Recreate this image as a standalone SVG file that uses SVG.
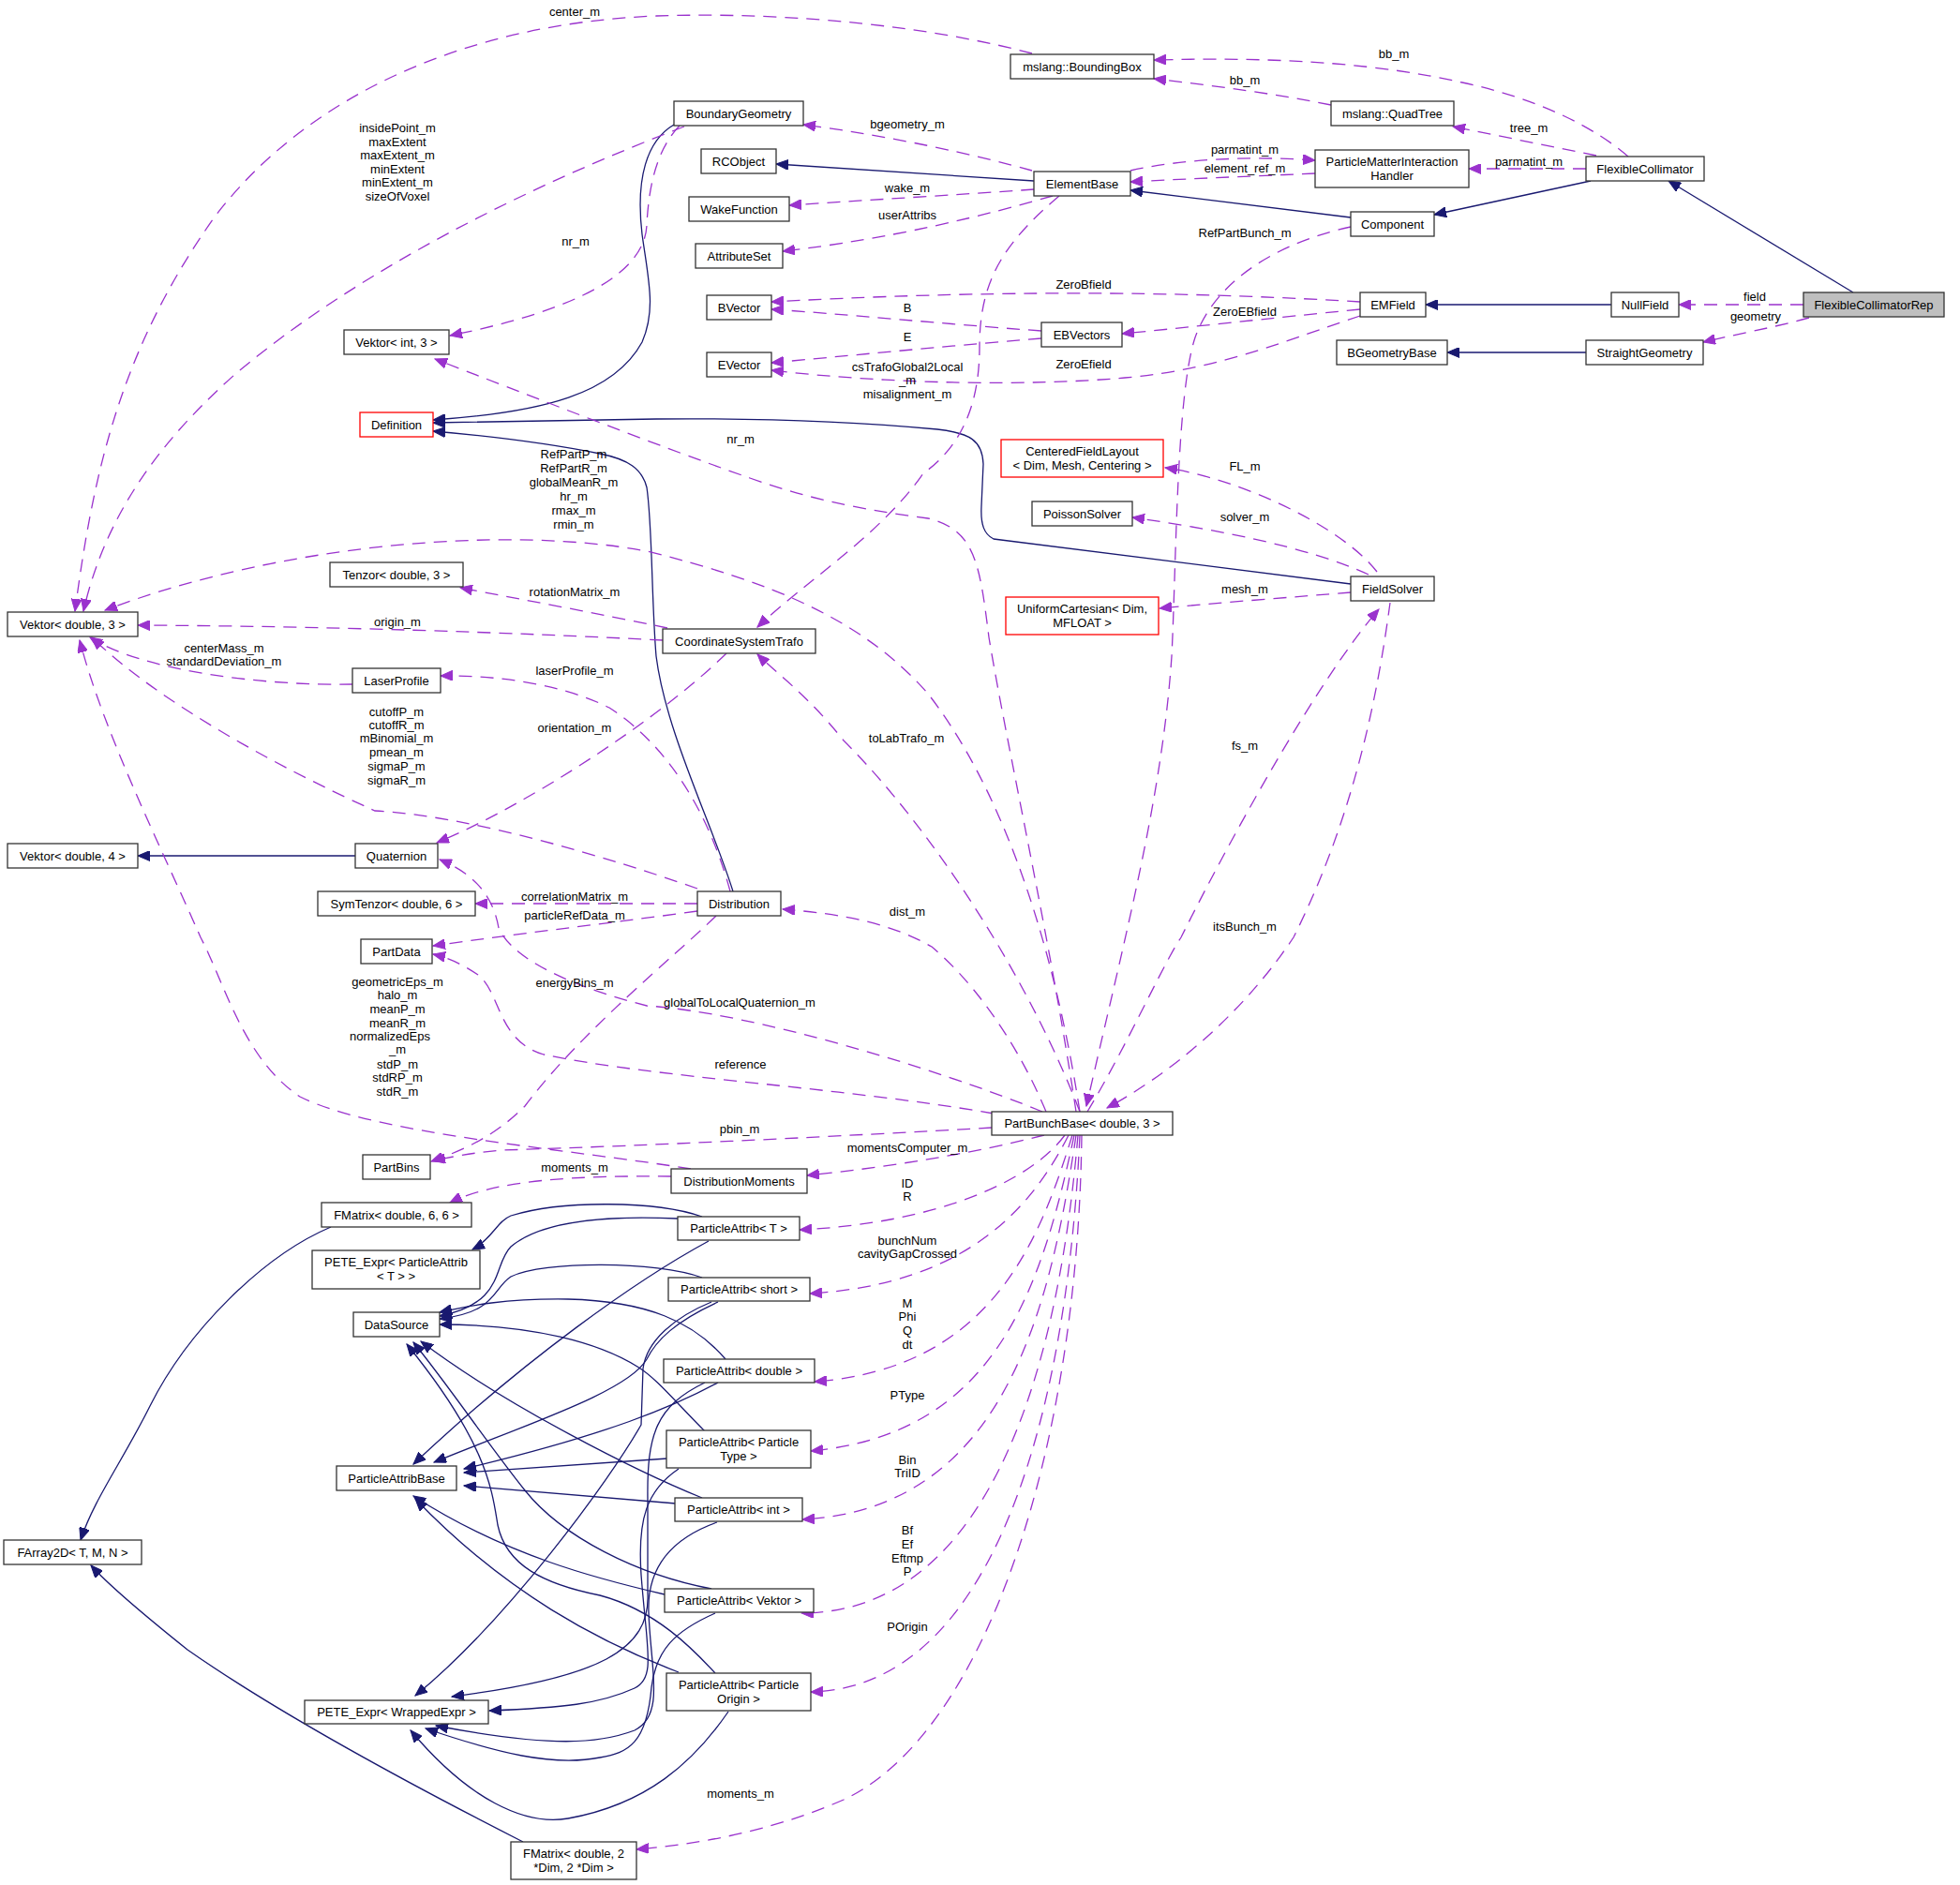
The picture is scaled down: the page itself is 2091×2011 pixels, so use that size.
<svg xmlns="http://www.w3.org/2000/svg" width="2091" height="2011" viewBox="0 0 2091 2011">
<defs>
<marker id="an" markerUnits="userSpaceOnUse" markerWidth="14" markerHeight="11" refX="13" refY="5.5" orient="auto" viewBox="0 0 14 11"><path d="M0,0 L13,5.5 L0,11 z" fill="#191970" stroke="#191970" stroke-width="1"/></marker>
<marker id="ap" markerUnits="userSpaceOnUse" markerWidth="14" markerHeight="11" refX="13" refY="5.5" orient="auto" viewBox="0 0 14 11"><path d="M0,0 L13,5.5 L0,11 z" fill="#9a32cd" stroke="#9a32cd" stroke-width="1"/></marker>
<style>
.n rect{fill:#fff;stroke:#333;stroke-width:1.3}
.n.r rect{stroke:#ff0000}
.n.g rect{fill:#bfbfbf}
text{font-family:"Liberation Sans",Arial,Helvetica,sans-serif;font-size:13px;text-anchor:middle;fill:#000}
.e{fill:none;stroke:#191970;stroke-width:1.3;marker-end:url(#an)}
.d{fill:none;stroke:#9a32cd;stroke-width:1.3;stroke-dasharray:14,9;marker-end:url(#ap)}
</style>
</defs>
<rect width="2091" height="2011" fill="#fff"/>
<g id="connectors">
<path class="e" d="M1977,312 L1780,193"/>
<path class="e" d="M1697,193 L1530,229"/>
<path class="e" d="M1441,232 L1206,203"/>
<path class="e" d="M1103,193 L828,175"/>
<path class="e" d="M1719,325 L1521,325"/>
<path class="e" d="M1692,376 L1544,376"/>
<path class="e" d="M719,133 C690,150 678,190 685,250 C692,300 700,330 685,365 C655,420 580,440 462,448"/>
<path class="e" d="M1441,623 L1060,575 C1050,570 1046,560 1047,540 L1049,495 C1048,470 1035,462 1000,458 C900,449 800,446 700,447 L462,451"/>
<path class="e" d="M782,951 C760,880 710,780 700,700 C695,640 696,560 690,520 C685,500 670,490 640,484 C580,472 520,465 462,460"/>
<path class="e" d="M379,913 L147,913"/>
<path class="e" d="M353,1309 C280,1340 200,1420 160,1500 C130,1560 100,1600 86,1643"/>
<path class="e" d="M558,1965 C450,1910 300,1830 200,1760 C150,1720 115,1690 97,1670"/>
<path class="e" d="M749,1298 C700,1281 600,1280 545,1297 C530,1303 525,1322 504,1333"/>
<path class="e" d="M723,1300 C660,1297 580,1300 545,1330 C525,1350 540,1390 469,1404"/>
<path class="e" d="M756,1324 C680,1365 560,1450 441,1562"/>
<path class="e" d="M749,1363 C700,1345 580,1345 545,1362 C525,1375 530,1400 469,1407"/>
<path class="e" d="M766,1389 C720,1410 700,1430 690,1450 C670,1485 560,1520 463,1560"/>
<path class="e" d="M759,1389 C720,1405 690,1430 686,1460 L684,1520 C650,1580 540,1730 443,1809"/>
<path class="e" d="M774,1450 C740,1410 690,1388 606,1386 C540,1385 500,1393 469,1400"/>
<path class="e" d="M766,1475 C720,1500 650,1530 495,1567"/>
<path class="e" d="M752,1475 C700,1500 690,1530 691,1600 L691,1700 C694,1760 640,1790 482,1810"/>
<path class="e" d="M752,1527 C720,1495 700,1470 680,1458 C640,1433 570,1413 469,1413"/>
<path class="e" d="M712,1556 L495,1571"/>
<path class="e" d="M724,1567 C690,1590 680,1620 684,1680 C690,1760 700,1790 677,1801 C640,1818 600,1822 522,1825"/>
<path class="e" d="M749,1598 C680,1570 540,1500 449,1431"/>
<path class="e" d="M721,1604 L495,1585"/>
<path class="e" d="M765,1624 C720,1640 690,1670 692,1720 C694,1780 710,1830 677,1846 C640,1860 590,1865 465,1841"/>
<path class="e" d="M759,1695 C680,1680 600,1640 560,1590 C520,1540 480,1480 441,1432"/>
<path class="e" d="M709,1701 C640,1685 540,1660 441,1596"/>
<path class="e" d="M763,1721 C720,1740 700,1760 695,1800 C690,1860 670,1870 640,1875 C590,1885 530,1870 454,1844"/>
<path class="e" d="M763,1785 C740,1760 700,1718 640,1702 C580,1690 540,1670 531,1627 C525,1590 520,1540 434,1434"/>
<path class="e" d="M724,1784 C640,1752 540,1700 443,1599"/>
<path class="e" d="M777,1826 C740,1880 690,1925 606,1940 C560,1948 500,1920 438,1846"/>
<path class="d" d="M1924,325 L1791,325"/>
<path class="d" d="M1930,339 C1890,350 1850,357 1817,365"/>
<path class="d" d="M1737,167 C1700,135 1640,105 1560,88 C1480,70 1380,60 1231,64"/>
<path class="d" d="M1703,166 L1550,135"/>
<path class="d" d="M1692,180 L1567,180"/>
<path class="d" d="M1420,112 C1360,100 1300,92 1231,84"/>
<path class="d" d="M1403,185 C1340,188 1280,190 1206,194"/>
<path class="d" d="M1206,182 C1260,170 1330,166 1403,171"/>
<path class="d" d="M1101,182 C1040,165 950,145 857,133"/>
<path class="d" d="M1103,202 C1020,208 930,213 842,219"/>
<path class="d" d="M1123,209 C1050,230 950,255 835,268"/>
<path class="d" d="M1130,209 C1070,260 1045,300 1045,370 C1045,440 1020,480 985,505 C940,570 860,620 808,669"/>
<path class="d" d="M1441,242 C1380,255 1300,290 1275,360 C1255,420 1255,600 1250,700 C1240,850 1200,1000 1159,1180"/>
<path class="d" d="M1451,322 C1300,313 1100,307 823,322"/>
<path class="d" d="M1451,330 C1350,340 1280,348 1197,356"/>
<path class="d" d="M1451,337 C1380,360 1300,395 1200,403 C1100,412 950,410 823,395"/>
<path class="d" d="M1111,353 C1000,345 900,335 823,330"/>
<path class="d" d="M1111,361 C1000,370 900,380 823,387"/>
<path class="d" d="M730,135 C560,200 380,290 250,400 C160,480 110,560 89,652"/>
<path class="d" d="M725,134 C700,160 692,200 690,240 C688,290 620,330 480,358"/>
<path class="d" d="M1101,57 C1000,30 850,12 700,17 C500,25 330,100 230,230 C130,370 100,500 80,652"/>
<path class="d" d="M1148,1186 C1120,1000 1075,800 1055,680 C1045,600 1040,565 990,553 C930,545 870,535 800,510 C700,475 560,420 464,383"/>
<path class="d" d="M1152,1186 C1120,980 1060,830 990,740 C920,660 820,620 690,588 C540,560 300,580 112,651"/>
<path class="d" d="M707,683 C550,675 350,668 147,667"/>
<path class="d" d="M376,730 C280,732 150,715 96,680"/>
<path class="d" d="M744,948 C650,915 500,870 400,865 C300,820 170,750 98,680"/>
<path class="d" d="M737,1247 C600,1225 400,1210 320,1170 C260,1130 240,1050 214,1000 C170,900 110,780 85,683"/>
<path class="d" d="M712,670 C640,655 560,640 491,627"/>
<path class="d" d="M775,697 C700,770 560,860 466,899"/>
<path class="d" d="M779,951 C760,880 720,800 650,755 C600,730 530,720 470,721"/>
<path class="d" d="M744,964 L507,964"/>
<path class="d" d="M744,972 C650,985 560,995 462,1009"/>
<path class="d" d="M764,977 C720,1020 620,1100 560,1180 C530,1210 500,1225 460,1239"/>
<path class="d" d="M1112,1186 C1000,1140 800,1080 690,1073 C600,1050 545,1020 532,990 C525,950 500,930 469,917"/>
<path class="d" d="M1060,1188 C900,1160 700,1150 580,1125 C530,1110 535,1060 510,1040 C495,1030 480,1022 462,1018"/>
<path class="d" d="M1058,1203 C900,1212 700,1222 536,1227 C500,1230 480,1235 462,1238"/>
<path class="d" d="M1116,1186 C1080,1100 1030,1040 994,1010 C950,985 900,975 835,970"/>
<path class="d" d="M1114,1211 C1040,1230 950,1245 861,1254"/>
<path class="d" d="M716,1255 C620,1254 530,1258 480,1283"/>
<path class="d" d="M1152,1186 C1100,1050 1000,890 900,790 C860,740 830,720 808,698"/>
<path class="d" d="M1160,1186 C1200,1120 1240,1030 1260,1000 C1320,880 1410,720 1471,650"/>
<path class="d" d="M1483,643 C1470,740 1445,870 1380,1000 C1320,1090 1240,1150 1181,1182"/>
<path class="d" d="M1469,610 C1430,560 1320,510 1243,499"/>
<path class="d" d="M1460,613 C1400,585 1300,565 1208,552"/>
<path class="d" d="M1441,632 C1380,637 1300,643 1237,649"/>
<path class="d" d="M1136,1211 C1100,1260 1000,1305 853,1312"/>
<path class="d" d="M1140,1211 C1100,1290 1030,1370 864,1380"/>
<path class="d" d="M1144,1211 C1110,1320 1060,1460 869,1474"/>
<path class="d" d="M1146,1211 C1110,1380 1060,1530 865,1548"/>
<path class="d" d="M1148,1211 C1120,1400 1070,1610 856,1621"/>
<path class="d" d="M1150,1211 C1130,1450 1060,1720 855,1721"/>
<path class="d" d="M1152,1211 C1140,1480 1070,1800 865,1805"/>
<path class="d" d="M1154,1211 C1150,1550 1050,1850 900,1920 C820,1955 740,1968 679,1973"/>
</g>
<g id="labels">
<text x="613" y="17">center_m</text>
<text x="424" y="141">insidePoint_m</text>
<text x="424" y="156">maxExtent</text>
<text x="424" y="170">maxExtent_m</text>
<text x="424" y="185">minExtent</text>
<text x="424" y="199">minExtent_m</text>
<text x="424" y="214">sizeOfVoxel</text>
<text x="614" y="262">nr_m</text>
<text x="1328" y="90">bb_m</text>
<text x="1487" y="62">bb_m</text>
<text x="968" y="137">bgeometry_m</text>
<text x="1328" y="164">parmatint_m</text>
<text x="1328" y="184">element_ref_m</text>
<text x="1631" y="141">tree_m</text>
<text x="1631" y="177">parmatint_m</text>
<text x="968" y="205">wake_m</text>
<text x="968" y="234">userAttribs</text>
<text x="1328" y="253">RefPartBunch_m</text>
<text x="1156" y="308">ZeroBfield</text>
<text x="968" y="333">B</text>
<text x="1328" y="337">ZeroEBfield</text>
<text x="968" y="364">E</text>
<text x="1156" y="393">ZeroEfield</text>
<text x="1872" y="321">field</text>
<text x="1873" y="342">geometry</text>
<text x="968" y="396">csTrafoGlobal2Local</text>
<text x="968" y="410">_m</text>
<text x="968" y="425">misalignment_m</text>
<text x="790" y="473">nr_m</text>
<text x="1328" y="502">FL_m</text>
<text x="612" y="489">RefPartP_m</text>
<text x="612" y="504">RefPartR_m</text>
<text x="612" y="519">globalMeanR_m</text>
<text x="612" y="534">hr_m</text>
<text x="612" y="549">rmax_m</text>
<text x="612" y="564">rmin_m</text>
<text x="1328" y="556">solver_m</text>
<text x="1328" y="633">mesh_m</text>
<text x="613" y="636">rotationMatrix_m</text>
<text x="424" y="668">origin_m</text>
<text x="239" y="696">centerMass_m</text>
<text x="239" y="710">standardDeviation_m</text>
<text x="613" y="720">laserProfile_m</text>
<text x="423" y="764">cutoffP_m</text>
<text x="423" y="778">cutoffR_m</text>
<text x="423" y="792">mBinomial_m</text>
<text x="423" y="807">pmean_m</text>
<text x="423" y="822">sigmaP_m</text>
<text x="423" y="837">sigmaR_m</text>
<text x="613" y="781">orientation_m</text>
<text x="967" y="792">toLabTrafo_m</text>
<text x="1328" y="800">fs_m</text>
<text x="613" y="961">correlationMatrix_m</text>
<text x="613" y="981">particleRefData_m</text>
<text x="968" y="977">dist_m</text>
<text x="1328" y="993">itsBunch_m</text>
<text x="613" y="1053">energyBins_m</text>
<text x="424" y="1052">geometricEps_m</text>
<text x="424" y="1066">halo_m</text>
<text x="424" y="1081">meanP_m</text>
<text x="424" y="1096">meanR_m</text>
<text x="416" y="1110">normalizedEps</text>
<text x="424" y="1124">_m</text>
<text x="424" y="1140">stdP_m</text>
<text x="424" y="1154">stdRP_m</text>
<text x="424" y="1169">stdR_m</text>
<text x="789" y="1074">globalToLocalQuaternion_m</text>
<text x="790" y="1140">reference</text>
<text x="789" y="1209">pbin_m</text>
<text x="968" y="1229">momentsComputer_m</text>
<text x="613" y="1250">moments_m</text>
<text x="968" y="1267">ID</text>
<text x="968" y="1281">R</text>
<text x="968" y="1328">bunchNum</text>
<text x="968" y="1342">cavityGapCrossed</text>
<text x="968" y="1395">M</text>
<text x="968" y="1409">Phi</text>
<text x="968" y="1424">Q</text>
<text x="968" y="1439">dt</text>
<text x="968" y="1493">PType</text>
<text x="968" y="1562">Bin</text>
<text x="968" y="1576">TriID</text>
<text x="968" y="1637">Bf</text>
<text x="968" y="1652">Ef</text>
<text x="968" y="1667">Eftmp</text>
<text x="968" y="1681">P</text>
<text x="968" y="1740">POrigin</text>
<text x="790" y="1918">moments_m</text>
</g>
<g id="FlexibleCollimatorRep" class="n g"><rect x="1924" y="312" width="150" height="26"/><text x="1999" y="329.5">FlexibleCollimatorRep</text></g>
<g id="FlexibleCollimator" class="n"><rect x="1692" y="167" width="126" height="26"/><text x="1755" y="184.5">FlexibleCollimator</text></g>
<g id="BoundingBox" class="n"><rect x="1078" y="58" width="153" height="26"/><text x="1154.5" y="75.5">mslang::BoundingBox</text></g>
<g id="QuadTree" class="n"><rect x="1420" y="108" width="131" height="26"/><text x="1485.5" y="125.5">mslang::QuadTree</text></g>
<g id="PMIH" class="n"><rect x="1403" y="160" width="164" height="40"/><text x="1485" y="176.5">ParticleMatterInteraction</text><text x="1485" y="191.5">Handler</text></g>
<g id="Component" class="n"><rect x="1441" y="226" width="89" height="26"/><text x="1485.5" y="243.5">Component</text></g>
<g id="EMField" class="n"><rect x="1451" y="312" width="70" height="26"/><text x="1486" y="329.5">EMField</text></g>
<g id="NullField" class="n"><rect x="1719" y="312" width="72" height="26"/><text x="1755" y="329.5">NullField</text></g>
<g id="BGeometryBase" class="n"><rect x="1426" y="363" width="118" height="26"/><text x="1485" y="380.5">BGeometryBase</text></g>
<g id="StraightGeometry" class="n"><rect x="1692" y="363" width="125" height="26"/><text x="1754.5" y="380.5">StraightGeometry</text></g>
<g id="BoundaryGeometry" class="n"><rect x="719" y="108" width="138" height="26"/><text x="788" y="125.5">BoundaryGeometry</text></g>
<g id="RCObject" class="n"><rect x="748" y="159" width="80" height="26"/><text x="788" y="176.5">RCObject</text></g>
<g id="WakeFunction" class="n"><rect x="735" y="210" width="107" height="26"/><text x="788.5" y="227.5">WakeFunction</text></g>
<g id="AttributeSet" class="n"><rect x="742" y="260" width="93" height="26"/><text x="788.5" y="277.5">AttributeSet</text></g>
<g id="ElementBase" class="n"><rect x="1103" y="183" width="103" height="26"/><text x="1154.5" y="200.5">ElementBase</text></g>
<g id="BVector" class="n"><rect x="754" y="315" width="69" height="26"/><text x="788.5" y="332.5">BVector</text></g>
<g id="EBVectors" class="n"><rect x="1111" y="344" width="86" height="26"/><text x="1154" y="361.5">EBVectors</text></g>
<g id="EVector" class="n"><rect x="754" y="376" width="69" height="26"/><text x="788.5" y="393.5">EVector</text></g>
<g id="VektorInt3" class="n"><rect x="367" y="352" width="112" height="26"/><text x="423" y="369.5">Vektor&lt; int, 3 &gt;</text></g>
<g id="Definition" class="n r"><rect x="384" y="440" width="78" height="26"/><text x="423" y="457.5">Definition</text></g>
<g id="CenteredFieldLayout" class="n r"><rect x="1068" y="469" width="173" height="40"/><text x="1154.5" y="485.5">CenteredFieldLayout</text><text x="1154.5" y="500.5">&lt; Dim, Mesh, Centering &gt;</text></g>
<g id="PoissonSolver" class="n"><rect x="1101" y="535" width="107" height="26"/><text x="1154.5" y="552.5">PoissonSolver</text></g>
<g id="FieldSolver" class="n"><rect x="1441" y="615" width="89" height="26"/><text x="1485.5" y="632.5">FieldSolver</text></g>
<g id="UniformCartesian" class="n r"><rect x="1073" y="637" width="163" height="40"/><text x="1154.5" y="653.5">UniformCartesian&lt; Dim,</text><text x="1154.5" y="668.5">MFLOAT &gt;</text></g>
<g id="Tenzor" class="n"><rect x="352" y="600" width="142" height="26"/><text x="423" y="617.5">Tenzor&lt; double, 3 &gt;</text></g>
<g id="VektorDouble3" class="n"><rect x="8" y="653" width="139" height="26"/><text x="77.5" y="670.5">Vektor&lt; double, 3 &gt;</text></g>
<g id="CoordinateSystemTrafo" class="n"><rect x="707" y="671" width="163" height="26"/><text x="788.5" y="688.5">CoordinateSystemTrafo</text></g>
<g id="LaserProfile" class="n"><rect x="376" y="713" width="94" height="26"/><text x="423" y="730.5">LaserProfile</text></g>
<g id="VektorDouble4" class="n"><rect x="8" y="900" width="139" height="26"/><text x="77.5" y="917.5">Vektor&lt; double, 4 &gt;</text></g>
<g id="Quaternion" class="n"><rect x="379" y="900" width="88" height="26"/><text x="423" y="917.5">Quaternion</text></g>
<g id="SymTenzor" class="n"><rect x="339" y="951" width="168" height="26"/><text x="423" y="968.5">SymTenzor&lt; double, 6 &gt;</text></g>
<g id="Distribution" class="n"><rect x="744" y="951" width="89" height="26"/><text x="788.5" y="968.5">Distribution</text></g>
<g id="PartData" class="n"><rect x="385" y="1002" width="76" height="26"/><text x="423" y="1019.5">PartData</text></g>
<g id="PartBunchBase" class="n"><rect x="1058" y="1186" width="193" height="25"/><text x="1154.5" y="1203">PartBunchBase&lt; double, 3 &gt;</text></g>
<g id="PartBins" class="n"><rect x="387" y="1232" width="72" height="26"/><text x="423" y="1249.5">PartBins</text></g>
<g id="DistributionMoments" class="n"><rect x="716" y="1247" width="145" height="26"/><text x="788.5" y="1264.5">DistributionMoments</text></g>
<g id="FMatrix66" class="n"><rect x="343" y="1283" width="160" height="26"/><text x="423" y="1300.5">FMatrix&lt; double, 6, 6 &gt;</text></g>
<g id="ParticleAttribT" class="n"><rect x="723" y="1298" width="130" height="25"/><text x="788" y="1315">ParticleAttrib&lt; T &gt;</text></g>
<g id="PETE_Expr_PA" class="n"><rect x="333" y="1334" width="179" height="41"/><text x="422.5" y="1350.5">PETE_Expr&lt; ParticleAttrib</text><text x="422.5" y="1365.5">&lt; T &gt; &gt;</text></g>
<g id="ParticleAttribShort" class="n"><rect x="713" y="1363" width="151" height="25"/><text x="788.5" y="1380">ParticleAttrib&lt; short &gt;</text></g>
<g id="DataSource" class="n"><rect x="377" y="1400" width="92" height="26"/><text x="423" y="1417.5">DataSource</text></g>
<g id="ParticleAttribDouble" class="n"><rect x="708" y="1450" width="161" height="25"/><text x="788.5" y="1467">ParticleAttrib&lt; double &gt;</text></g>
<g id="ParticleAttribParticleType" class="n"><rect x="711" y="1526" width="154" height="40"/><text x="788" y="1542.5">ParticleAttrib&lt; Particle</text><text x="788" y="1557.5">Type &gt;</text></g>
<g id="ParticleAttribBase" class="n"><rect x="359" y="1564" width="128" height="26"/><text x="423" y="1581.5">ParticleAttribBase</text></g>
<g id="ParticleAttribInt" class="n"><rect x="720" y="1598" width="136" height="25"/><text x="788" y="1615">ParticleAttrib&lt; int &gt;</text></g>
<g id="FArray2D" class="n"><rect x="4" y="1643" width="147" height="26"/><text x="77.5" y="1660.5">FArray2D&lt; T, M, N &gt;</text></g>
<g id="ParticleAttribVektor" class="n"><rect x="709" y="1695" width="159" height="25"/><text x="788.5" y="1712">ParticleAttrib&lt; Vektor &gt;</text></g>
<g id="ParticleAttribParticleOrigin" class="n"><rect x="711" y="1785" width="154" height="40"/><text x="788" y="1801.5">ParticleAttrib&lt; Particle</text><text x="788" y="1816.5">Origin &gt;</text></g>
<g id="PETE_Expr_Wrapped" class="n"><rect x="325" y="1814" width="196" height="25"/><text x="423" y="1831">PETE_Expr&lt; WrappedExpr &gt;</text></g>
<g id="FMatrix2Dim" class="n"><rect x="545" y="1965" width="134" height="40"/><text x="612" y="1981.5">FMatrix&lt; double, 2</text><text x="612" y="1996.5"> *Dim, 2 *Dim &gt;</text></g>
</svg>
